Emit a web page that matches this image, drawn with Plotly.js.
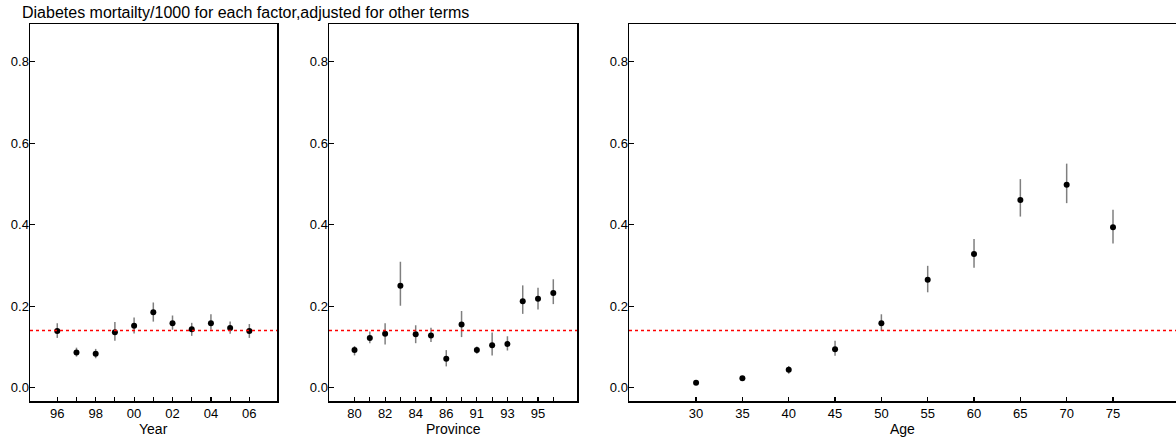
<!DOCTYPE html>
<html>
<head>
<meta charset="utf-8">
<script src="https://cdn.plot.ly/plotly-3.0.1.min.js"></script>
<style>html,body{margin:0;padding:0;background:#fff}#chart{width:1176px;height:445px}</style>
</head>
<body>
<div id="chart"></div>
<script>
const titleText = 'Diabetes mortailty/1000 for each factor,adjusted for other terms';
const overallRate = 0.14;

const years = ['96','97','98','99','00','01','02','03','04','05','06'];
const yearVal = [0.139,0.086,0.083,0.136,0.152,0.185,0.158,0.143,0.158,0.146,0.139];
const yearLo  = [0.122,0.076,0.072,0.115,0.133,0.162,0.142,0.127,0.142,0.132,0.122];
const yearHi  = [0.158,0.098,0.095,0.161,0.172,0.209,0.177,0.159,0.180,0.162,0.156];

const provinces = ['80','81','82','83','84','85','86','90','91','92','93','94','95','96'];
const provVal = [0.092,0.122,0.132,0.250,0.131,0.128,0.071,0.155,0.092,0.104,0.107,0.212,0.218,0.232];
const provLo  = [0.079,0.109,0.106,0.201,0.109,0.112,0.052,0.124,0.083,0.079,0.091,0.181,0.192,0.205];
const provHi  = [0.102,0.138,0.158,0.309,0.153,0.147,0.092,0.188,0.101,0.135,0.126,0.251,0.245,0.266];

const ages = [30,35,40,45,50,55,60,65,70,75];
const ageVal = [0.012,0.023,0.044,0.094,0.158,0.265,0.328,0.461,0.498,0.394];
const ageLo  = [0.008,0.020,0.034,0.078,0.139,0.234,0.294,0.420,0.453,0.354];
const ageHi  = [0.016,0.027,0.053,0.115,0.180,0.299,0.365,0.512,0.550,0.437];

const yTicks = [0, 0.2, 0.4, 0.6, 0.8];
const axisTitles = ['Year', 'Province', 'Age'];

function trace(x, v, lo, hi, xa, ya) {
  return {
    type: 'scatter', mode: 'markers', x: x, y: v, xaxis: xa, yaxis: ya,
    marker: {color: '#000', size: 6, symbol: 'circle'},
    error_y: {type: 'data', symmetric: false,
      array: hi.map((h, i) => h - v[i]),
      arrayminus: lo.map((l, i) => v[i] - l),
      color: '#7f7f7f', thickness: 1.5, width: 0},
    showlegend: false, hoverinfo: 'skip'
  };
}

const yearIdx = years.map((_, i) => i);
const provIdx = provinces.map((_, i) => i);

const data = [
  trace(yearIdx, yearVal, yearLo, yearHi, 'x', 'y'),
  trace(provIdx, provVal, provLo, provHi, 'x2', 'y2'),
  trace(ages, ageVal, ageLo, ageHi, 'x3', 'y3')
];

const W = 1176, H = 445;
const yDom = [(H - 401) / H, (H - 24) / H];
const fam = 'Liberation Sans, Arial, sans-serif';
const fontTick = {family: fam, size: 13, color: '#000'};
const fontAxisTitle = {family: fam, size: 14, color: '#000'};
const fontTitle = {family: fam, size: 16, color: '#000'};

function xAxis(dom, range, tickvals, ticktext, mirror) {
  return {
    domain: dom, range: range, tickmode: 'array', tickvals: tickvals, ticktext: ticktext,
    showline: true, linecolor: '#000', linewidth: 1.5, mirror: mirror,
    ticks: 'inside', ticklen: 4, tickwidth: 1.2, tickcolor: '#000',
    showgrid: false, zeroline: false, tickfont: fontTick, fixedrange: true
  };
}
function yAxis(anchor, mirror) {
  return {
    domain: yDom, range: [-0.033, 0.893], anchor: anchor,
    tickmode: 'array', tickvals: yTicks, ticktext: yTicks.map(t => t.toFixed(1)),
    showline: true, linecolor: '#000', linewidth: 1.5, mirror: mirror,
    ticks: 'inside', ticklen: 5, tickwidth: 1.2, tickcolor: '#000',
    showgrid: false, zeroline: false, tickfont: fontTick, ticklabelstandoff: -3, fixedrange: true
  };
}

const doms = [[30 / W, 277 / W], [329 / W, 577 / W], [629 / W, 1]];

const layout = {
  width: W, height: H,
  margin: {l: 0, r: 0, t: 0, b: 0},
  paper_bgcolor: '#fff', plot_bgcolor: '#fff',
  xaxis: Object.assign(xAxis(doms[0], [-1.42, 11.44], yearIdx,
      years.map((y, i) => i % 2 === 0 ? y : ''), true), {anchor: 'y'}),
  yaxis: yAxis('x', true),
  xaxis2: Object.assign(xAxis(doms[1], [-1.67, 14.55], provIdx,
      provinces.map((p, i) => i % 2 === 0 ? p : ''), true), {anchor: 'y2'}),
  yaxis2: yAxis('x2', true),
  xaxis3: Object.assign(xAxis(doms[2], [22.76, 81.8], ages,
      ages.map(String), true), {anchor: 'y3'}),
  yaxis3: yAxis('x3', false),
  shapes: ['x', 'x2', 'x3'].map((xa, i) => ({
    type: 'line', xref: xa + ' domain', yref: i === 0 ? 'y' : 'y' + (i + 1),
    x0: 0, x1: 1, y0: overallRate, y1: overallRate,
    line: {color: '#ff0000', width: 1.5, dash: 'dot'}
  })),
  annotations: [{
    text: titleText, xref: 'paper', yref: 'paper', x: 20 / W, y: 1, xanchor: 'left', yanchor: 'top',
    yshift: -2, showarrow: false, font: fontTitle
  }].concat(axisTitles.map((t, i) => ({
    text: t, xref: 'paper', yref: 'paper', x: (doms[i][0] + doms[i][1]) / 2,
    y: (H - 429) / H, xanchor: 'center', yanchor: 'middle', showarrow: false, font: fontAxisTitle
  })))
};

Plotly.newPlot('chart', data, layout, {displayModeBar: false, staticPlot: true});
</script>
</body>
</html>
